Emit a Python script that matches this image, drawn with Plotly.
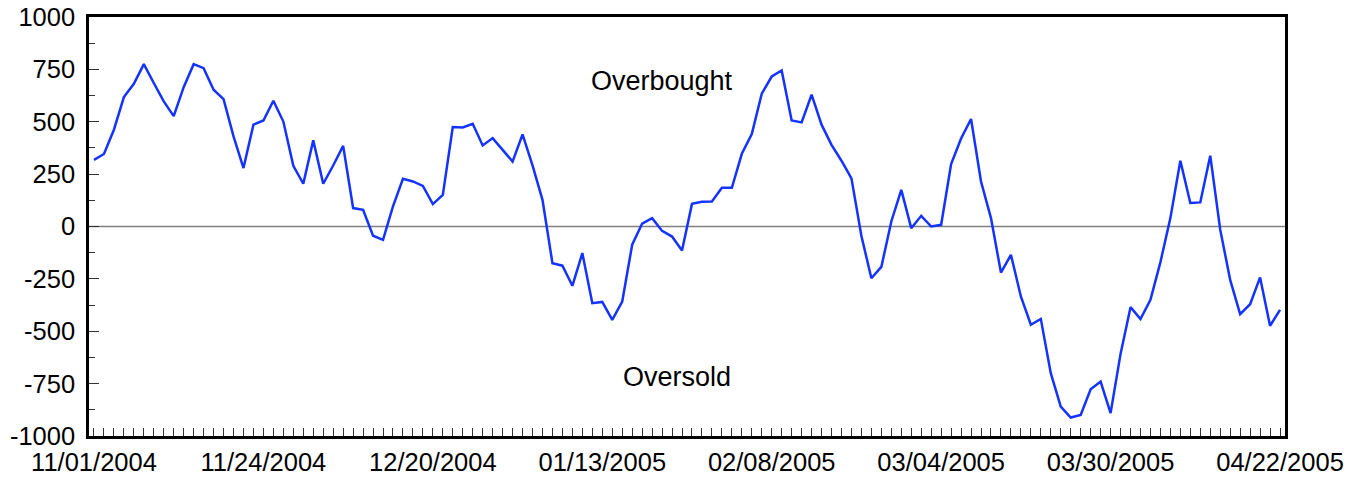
import pandas as pd
import plotly.graph_objects as go

# NYSE trading days 11/01/2004 .. 04/22/2005
holidays = ["2004-11-25", "2004-12-24", "2005-01-17", "2005-02-21", "2005-03-25"]
dates = [d for d in pd.bdate_range("2004-11-01", "2005-04-22") if d.strftime("%Y-%m-%d") not in holidays]
date_labels = [d.strftime("%m/%d/%Y") for d in dates]

values = [
    318, 346, 462, 618, 681, 775, 685, 597, 527, 665,
    775, 756, 653, 608, 430, 279, 486, 506, 600, 501,
    290, 204, 411, 204, 291, 385, 88, 80, -44, -64,
    96, 228, 215, 194, 107, 151, 475, 473, 490, 387,
    422, 366, 310, 440, 292, 127, -175, -187, -283, -127,
    -366, -360, -446, -358, -87, 14, 40, -21, -48, -115,
    108, 118, 119, 185, 185, 347, 441, 634, 716, 745,
    506, 497, 629, 486, 390, 314, 230, -45, -247, -193,
    24, 175, -8, 51, 0, 8, 298, 420, 513, 215,
    40, -220, -135, -334, -469, -441, -700, -860, -912, -899,
    -777, -740, -891, -608, -385, -442, -350, -170, 40, 314,
    112, 115, 338, -15, -255, -418, -371, -243, -474, -398,
]
assert len(values) == len(date_labels)

label_step = 17
idx = list(range(len(values)))
tick_idx = idx[::label_step]
tick_text = [date_labels[i] for i in tick_idx]

y_ticks = [-1000, -750, -500, -250, 0, 250, 500, 750, 1000]
y_tick_text = [str(v) for v in y_ticks]  # plain hyphen minus

annotations_text = ["Overbought", "Oversold"]
annotations_pos = [(57, 696), (58.5, -719)]

fig = go.Figure()
fig.add_trace(go.Scatter(
    x=idx, y=values, mode="lines",
    line=dict(color="#1433ff", width=2.5),
    hovertext=date_labels, showlegend=False,
))

fig.add_hline(y=0, line=dict(color="#808080", width=1.3), layer="below")

for txt, (ax, ay) in zip(annotations_text, annotations_pos):
    fig.add_annotation(x=ax, y=ay, text=txt, showarrow=False,
                       font=dict(family="Liberation Sans, Arial", size=27, color="#000"))

font = dict(family="Liberation Sans, Arial", size=25.5, color="#000")
fig.update_layout(
    width=1362, height=479,
    margin=dict(l=89, r=77, t=17, b=43),
    paper_bgcolor="white", plot_bgcolor="white",
    font=font,
    xaxis=dict(
        range=[-0.5, len(values) - 0.5],
        tickmode="array", tickvals=tick_idx, ticktext=tick_text,
        ticks="inside", ticklen=8, tickwidth=1, tickcolor="#333",
        minor=dict(dtick=1, tick0=0, ticks="inside", ticklen=8, tickwidth=1, tickcolor="#333"),
        showgrid=False, zeroline=False,
        showline=True, linecolor="#000", linewidth=2.5, mirror=True,
        ticklabelstandoff=2,
        automargin=False,
        tickfont=font,
    ),
    yaxis=dict(
        range=[-1000, 1000],
        tickmode="array", tickvals=y_ticks, ticktext=y_tick_text,
        ticks="inside", ticklen=10, tickwidth=1, tickcolor="#333",
        minor=dict(dtick=125, tick0=0, ticks="inside", ticklen=6, tickwidth=1, tickcolor="#333"),
        showgrid=False, zeroline=False,
        showline=True, linecolor="#000", linewidth=2.5, mirror=True,
        ticklabelstandoff=6,
        automargin=False,
        tickfont=font,
    ),
)

fig.write_html(
    "out.html",
    config={"displayModeBar": False},
    post_script="document.body.style.margin='0';document.body.style.overflow='hidden';",
)
